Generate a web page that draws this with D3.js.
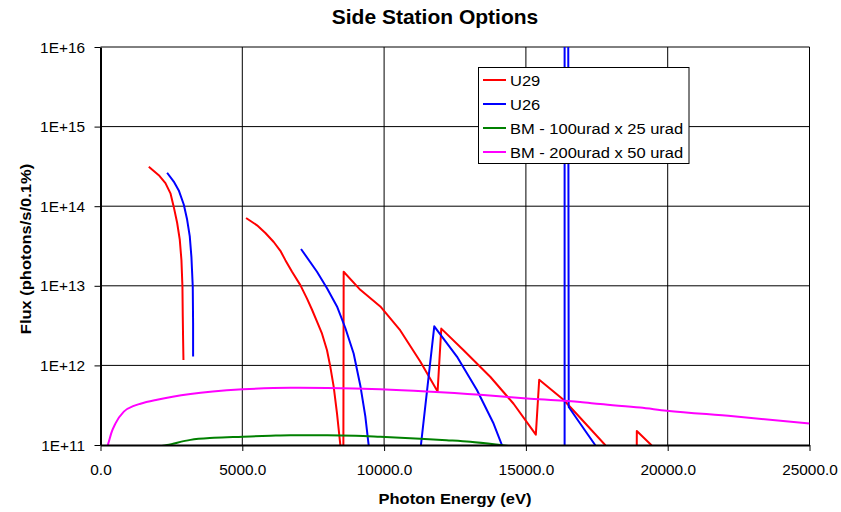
<!DOCTYPE html>
<html>
<head>
<meta charset="utf-8">
<script src="https://cdn.jsdelivr.net/npm/d3@7"></script>
<style>
  html, body { margin: 0; padding: 0; background: #fff; }
  svg { display: block; font-family: "Liberation Sans", Arial, sans-serif; }
</style>
</head>
<body>
<svg id="chart" width="841" height="512"></svg>
<script>
// ---------------- DATA ----------------
const seriesNames = ["U29", "U26", "BM - 100urad x 25 urad", "BM - 200urad x 50 urad"];
const seriesColors = ["#FF0000", "#0000FF", "#008000", "#FF00FF"];

// U29 (null = gap between segments; values below 1E+11 / above 1E+16 are clipped)
const u29Energy = [1703, 2055, 2290, 2467, 2583, 2702, 2795, 2854, 2889, 2901, 2913, 2925,
  4000,
  5133, 5520, 5814, 6108, 6343, 6519, 6754, 7047, 7282, 7459, 7657, 7811, 7987, 8104, 8222, 8339, 8457, 8500, 8560, 8574,
  9161, 9866, 10571, 11275, 11886, 12016, 12803, 13742, 14565, 15350, 15469,
  16326, 16913, 17794, 17850, 18900, 18911, 19420, 19500];
const u29Flux = [3.13e14, 2.45e14, 1.95e14, 1.45e14, 9.8e13, 6.2e13, 3.8e13, 2.1e13, 9.8e12, 4.1e12, 2.1e12, 1.17e12,
  null,
  7.1e13, 5.75e13, 4.6e13, 3.55e13, 2.75e13, 2.1e13, 1.5e13, 1.02e13, 6.9e12, 5.0e12, 3.4e12, 2.5e12, 1.55e12, 9.6e11, 5.4e11, 2.5e11, 1.0e11, 1e10, 1e10, 1.5e13,
  8.9e12, 5.5e12, 2.75e12, 1.12e12, 4.7e11, 2.9e12, 1.55e12, 7.2e11, 3.3e11, 1.35e11, 6.6e11,
  3.7e11, 2.2e11, 1.0e11, 5e10, 1e10, 1.5e11, 1.0e11, 8e10];

// U26
const u26Energy = [2349, 2583, 2760, 2936, 3054, 3147, 3206, 3253, 3265, 3265,
  5000,
  7071, 7634, 7987, 8339, 8633, 8926, 9161, 9337, 9455, 9500, 10984,
  11769, 12568, 13273, 13860, 14154, 14300, 16365, 16365, 16490, 16510, 16913, 17442, 17600];
const u26Flux = [2.63e14, 2.04e14, 1.58e14, 1.05e14, 6.8e13, 4.2e13, 2.3e13, 9.8e12, 3.4e12, 1.29e12,
  null,
  2.9e13, 1.5e13, 9.3e12, 5.5e12, 2.95e12, 1.41e12, 5.6e11, 2.3e11, 1.0e11, 1e10, 1e10,
  3.1e12, 1.29e12, 4.9e11, 1.86e11, 1.0e11, 1e10, 1e10, 1e17, 1e17, 3.0e11, 1.86e11, 1.0e11, 5e10];

// BM - 100urad x 25 urad
const bm100Energy = [2000, 2349, 3171, 4000, 5015, 6000, 6695, 8000, 9000, 9866, 11275, 12200, 13037, 14094, 14500];
const bm100Flux = [0.95e11, 1.0e11, 1.16e11, 1.23e11, 1.27e11, 1.31e11, 1.33e11, 1.33e11, 1.31e11, 1.27e11, 1.2e11, 1.15e11, 1.1e11, 1.0e11, 0.96e11];

// BM - 200urad x 50 urad
const bm200Energy = [258, 293, 377, 529, 822, 1174, 1409, 1996, 3171, 5015, 6695, 8000, 9866, 11500, 13390, 15152, 16913, 17618, 19028, 19968, 22315, 25000];
const bm200Flux = [1.0e11, 1.1e11, 1.4e11, 1.87e11, 2.63e11, 3.1e11, 3.3e11, 3.7e11, 4.37e11, 5.0e11, 5.25e11, 5.2e11, 5.0e11, 4.7e11, 4.27e11, 3.8e11, 3.47e11, 3.27e11, 2.95e11, 2.7e11, 2.3e11, 1.86e11];

const xTicks = [0, 5000, 10000, 15000, 20000, 25000];
const xTickLabels = ["0.0", "5000.0", "10000.0", "15000.0", "20000.0", "25000.0"];
const yTicks = [1e11, 1e12, 1e13, 1e14, 1e15, 1e16];
const yTickLabels = ["1E+11", "1E+12", "1E+13", "1E+14", "1E+15", "1E+16"];

const chartTitle = "Side Station Options";
const xTitle = "Photon Energy (eV)";
const yTitle = "Flux (photons/s/0.1%)";

// ---------------- LAYOUT ----------------
const svg = d3.select("#chart");
const plot = { left: 100.5, right: 809.5, top: 47, bottom: 445 };
const stretch = 1.1;

const x = d3.scaleLinear().domain([0, 25000]).range([plot.left, plot.right]);
const y = d3.scaleLog().domain([1e11, 1e16]).range([plot.bottom, plot.top]);

const series = [
  { e: u29Energy, f: u29Flux, smooth: false },
  { e: u26Energy, f: u26Flux, smooth: false },
  { e: bm100Energy, f: bm100Flux, smooth: true },
  { e: bm200Energy, f: bm200Flux, smooth: true }
].map((s, i) => ({
  name: seriesNames[i],
  color: seriesColors[i],
  smooth: s.smooth,
  pts: s.e.map((e, j) => ({ e: e, f: s.f[j] }))
}));

// gridlines
const grid = svg.append("g");
grid.selectAll("line.h").data(yTicks.slice(1)).join("line")
  .attr("x1", plot.left).attr("x2", plot.right)
  .attr("y1", d => y(d)).attr("y2", d => y(d))
  .attr("stroke", "#000").attr("stroke-width", 1);
grid.selectAll("line.v").data(xTicks.slice(1)).join("line")
  .attr("y1", plot.top).attr("y2", plot.bottom)
  .attr("x1", d => x(d)).attr("x2", d => x(d))
  .attr("stroke", "#000").attr("stroke-width", 1);

// clip
svg.append("clipPath").attr("id", "clip").append("rect")
  .attr("x", plot.left).attr("y", plot.top)
  .attr("width", plot.right - plot.left).attr("height", plot.bottom - plot.top);

const lineLinear = d3.line()
  .defined(d => d.f != null)
  .x(d => x(d.e))
  .y(d => y(d.f));
const lineSmooth = d3.line()
  .defined(d => d.f != null)
  .x(d => x(d.e))
  .y(d => y(d.f))
  .curve(d3.curveMonotoneX);

const lines = svg.append("g").attr("clip-path", "url(#clip)");
lines.selectAll("path").data(series).join("path")
  .attr("d", d => (d.smooth ? lineSmooth : lineLinear)(d.pts))
  .attr("fill", "none")
  .attr("stroke", d => d.color)
  .attr("stroke-width", 2)
  .attr("stroke-linejoin", "round");

// axes
const xAxis = d3.axisBottom(x).tickValues(xTicks)
  .tickFormat((d, i) => xTickLabels[i]).tickSize(6).tickSizeOuter(0);
const gx = svg.append("g").attr("transform", `translate(0,${plot.bottom})`).call(xAxis);
gx.select(".domain").attr("stroke", "#000").attr("stroke-width", 2);
gx.selectAll(".tick line").attr("stroke", "#000");
gx.selectAll(".tick text")
  .attr("y", 30).attr("dy", 0)
  .attr("font-size", 14).attr("font-family", '"Liberation Sans", Arial, sans-serif')
  .attr("fill", "#000")
  .attr("transform", `scale(${stretch},1)`);

const yAxis = d3.axisLeft(y).tickValues(yTicks)
  .tickFormat((d, i) => yTickLabels[i]).tickSize(6).tickSizeOuter(0);
const gy = svg.append("g").attr("transform", `translate(${plot.left},0)`).call(yAxis);
gy.select(".domain").attr("stroke", "#000").attr("stroke-width", 2);
gy.selectAll(".tick line").attr("stroke", "#000");
gy.selectAll(".tick text")
  .attr("x", -15.5 / stretch).attr("dy", "0.36em")
  .attr("font-size", 14).attr("font-family", '"Liberation Sans", Arial, sans-serif')
  .attr("fill", "#000")
  .attr("transform", `scale(${stretch},1)`);

// titles
svg.append("text")
  .attr("transform", `translate(435,24) scale(${stretch * 0.98},1)`)
  .attr("text-anchor", "middle")
  .attr("font-size", 19.5).attr("font-weight", "bold")
  .text(chartTitle);

svg.append("text")
  .attr("transform", `translate(455,504) scale(${stretch},1)`)
  .attr("text-anchor", "middle")
  .attr("font-size", 15).attr("font-weight", "bold")
  .text(xTitle);

svg.append("text")
  .attr("transform", `translate(31,249) rotate(-90) scale(${stretch},1)`)
  .attr("text-anchor", "middle")
  .attr("font-size", 15).attr("font-weight", "bold")
  .text(yTitle);

// legend
const lg = svg.append("g");
lg.append("rect")
  .attr("x", 478.5).attr("y", 67.5).attr("width", 210.5).attr("height", 96)
  .attr("fill", "#fff").attr("stroke", "#000").attr("stroke-width", 1);
const items = lg.selectAll("g.item").data(series).join("g")
  .attr("transform", (d, i) => `translate(0,${80 + i * 24})`);
items.append("line")
  .attr("x1", 483).attr("x2", 506).attr("y1", 0).attr("y2", 0)
  .attr("stroke", d => d.color).attr("stroke-width", 2);
items.append("text")
  .attr("transform", `translate(510,5.5) scale(${stretch},1)`)
  .attr("font-size", 15)
  .text(d => d.name);
</script>
</body>
</html>
